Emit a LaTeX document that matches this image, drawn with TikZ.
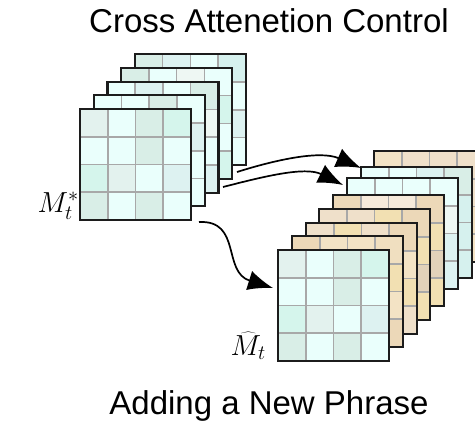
\RequirePackage{fix-cm}
\documentclass[tikz,border=0pt]{standalone}
\usepackage{fontspec}
\setmainfont{Liberation Sans}
\usetikzlibrary{arrows.meta}

% teal attention cells
\definecolor{ta}{HTML}{E3F2EE}
\definecolor{tb}{HTML}{EAFFFC}
\definecolor{tc}{HTML}{D9EEE7}
\definecolor{td}{HTML}{D5F5EC}
\definecolor{te}{HTML}{DDF2F1}
\definecolor{tf}{HTML}{D6F1EE}
\definecolor{tg}{HTML}{EEF7F3}
% beige attention cells
\definecolor{ba}{HTML}{F3E3C5}
\definecolor{bb}{HTML}{EFE0CA}
\definecolor{bc}{HTML}{F6EADB}
\definecolor{bd}{HTML}{ECD8B8}
\definecolor{be}{HTML}{F2E0B2}
\definecolor{bf}{HTML}{E2D2BA}
\definecolor{bg}{HTML}{F0DFC0}
\definecolor{gridgray}{HTML}{A8A8A8}
\definecolor{framedark}{HTML}{1C1C1C}

\def\msize{111}
\def\cell{27.75}

% \attnmap{x}{y}{name}{16 cell colours, row by row}
\newcommand\attnmap[4]{%
  \foreach \col [count=\k from 0] in {#4} {
    \pgfmathtruncatemacro\cx{mod(\k,4)}
    \pgfmathtruncatemacro\ry{int(\k/4)}
    \fill[\col] ({#1+\cx*\cell},{#2+\ry*\cell}) rectangle ++(\cell,\cell);
  }
  \foreach \i in {1,2,3} {
    \draw[gridline] ({#1+\i*\cell},#2) -- ++(0,\msize);
    \draw[gridline] (#1,{#2+\i*\cell}) -- ++(\msize,0);
  }
  \node[mapframe, anchor=north west] (#3) at (#1,#2) {};
}

\begin{document}
\begin{tikzpicture}[x=1pt,y=-1pt,
  gridline/.style={gridgray, line width=1.6pt},
  mapframe/.style={draw=framedark, line width=2.2pt, minimum size=\msize pt,
    inner sep=0pt, outer sep=0pt},
  flow/.style={line width=1.7pt, -{Latex[length=25pt,width=20pt]}},
  heading/.style={font=\fontsize{33}{36}\selectfont, anchor=base, inner sep=0pt},
  maplabel/.style={font=\fontsize{29}{32}\selectfont, anchor=base east, inner sep=0pt}]

\useasboundingbox (0,0) rectangle (475,426);

% source attention maps
\attnmap{134.8}{54.2}{src4}{tc,te,tb,tf, td,tb,tc,tb, tb,tc,tb,te, tc,tb,tf,tb}
\attnmap{121.1}{67.9}{src3}{tc,tb,tg,tb, tb,tc,tb,td, td,te,tb,tb, tb,tb,tc,td}
\attnmap{107.4}{81.6}{src2}{tb,te,tb,tc, tb,tb,td,tg, tc,tb,te,tb, tb,td,tb,te}
\attnmap{93.7}{95.3}{src1}{tb,tb,tc,tb, tc,td,tb,te, td,tb,tc,tb, tb,te,td,tb}
\attnmap{80}{109}{src0}{ta,tb,tc,td, tb,tb,tc,tb, td,ta,tb,te, tc,tb,tc,tb}

% edited attention maps
\attnmap{374}{151}{dst7}{ba,bb,bb,bb, bd,ba,bg,bb, bb,bd,ba,bg, ba,bb,bd,ba}
\attnmap{361}{167}{dst6}{tb,tb,te,tc, tb,tc,tb,tf, te,tb,tc,tf, tb,te,tb,tf}
\attnmap{347}{178}{dst5}{tb,tb,tb,tb, tb,tc,tb,tg, tc,tb,td,te, tb,tc,tb,te}
\attnmap{333}{195}{dst4}{bd,bc,bc,bd, ba,bb,bd,be, bd,ba,be,bf, bb,bd,ba,be}
\attnmap{319}{209}{dst3}{bb,bb,be,bd, bd,ba,bb,be, ba,bd,bg,bf, bb,ba,bd,be}
\attnmap{306}{223}{dst2}{bb,be,bb,bd, ba,bb,bd,ba, bd,ba,bb,be, ba,bd,ba,bb}
\attnmap{292}{236}{dst1}{bd,ba,ba,bg, bb,bd,ba,be, ba,bg,bd,ba, bb,ba,bg,bd}
\attnmap{278}{250}{dst0}{ta,tb,tc,td, tb,tb,tc,tb, td,ta,tb,te, tc,tb,tc,tb}

% arrow end points
\coordinate (s1) at (237,172);
\coordinate (e1) at (361,168);
\coordinate (s2) at (223,187);
\coordinate (e2) at (343,185);
\coordinate (s3) at (199,222);
\coordinate (e3) at (273,288);

\draw[flow] (s1) .. controls (275,160) and (320,150) .. (e1);
\draw[flow] (s2) .. controls (262,177) and (305,166) .. (e2);
\draw[flow] (s3) .. controls (242,220) and (222,272) .. (e3);

% labels
\node[maplabel] (lsrc) at (79,212) {$M_t^*$};
\node[maplabel] (ldst) at (266,355) {$\widehat{M}_t$};

\node[heading] (top) at (269,32.5) {Cross Attenetion Control};
\node[heading] (bottom) at (269,414) {Adding a New Phrase};
\end{tikzpicture}
\end{document}
